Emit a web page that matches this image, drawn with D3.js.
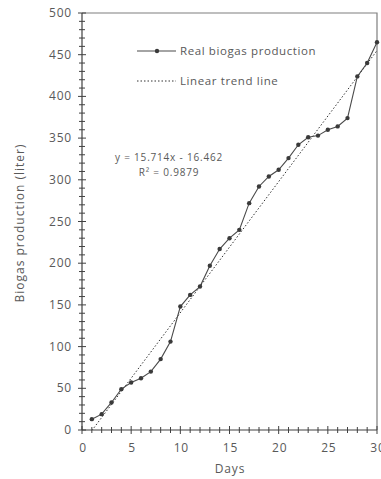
<!DOCTYPE html>
<html>
<head>
<meta charset="utf-8">
<script src="https://cdn.jsdelivr.net/npm/d3@7"></script>
<style>
  body { margin: 0; background: #fff; }
  svg text { font-family: "Open Sans", "Noto Sans", sans-serif; fill: #595959; }
</style>
</head>
<body>
<svg id="chart" width="381" height="479"></svg>
<script>
// Measured biogas production per day
const days = [1, 2, 3, 4, 5, 6, 7, 8, 9, 10, 11, 12, 13, 14, 15,
              16, 17, 18, 19, 20, 21, 22, 23, 24, 25, 26, 27, 28, 29, 30];
const biogas = [13, 19, 33, 49, 57, 62, 70, 85, 106, 148, 162, 172, 197, 217, 230,
                240, 272, 292, 304, 312, 326, 342, 351, 353, 360, 364, 374, 424, 440, 465];

// Linear trend line as printed on the chart
const trendSlope = 15.714;
const trendIntercept = -16.462;
const trendLabels = ['y = 15.714x - 16.462', 'R\u00b2 = 0.9879'];

const xTicks = [0, 5, 10, 15, 20, 25, 30];
const yTicks = [0, 50, 100, 150, 200, 250, 300, 350, 400, 450, 500];

const svg = d3.select('#chart');

const plotLeft = 82, plotRight = 377, plotTop = 13, plotBottom = 430;
const x = d3.scaleLinear().domain([0, 30]).range([plotLeft, plotRight]);
const y = d3.scaleLinear().domain([0, 500]).range([plotBottom, plotTop]);

const axisColor = '#404040';

// frame (top and right)
svg.append('path')
    .attr('d', `M${plotLeft},${plotTop}H${plotRight}V${plotBottom}`)
    .attr('fill', 'none')
    .attr('stroke', '#7f7f7f')
    .attr('stroke-width', 1.2);

// minor ticks, crossing the axes
const xMinor = d3.range(0, 31, 1);
const yMinor = d3.range(0, 501, 10);

const xAxis = svg.append('g');
xAxis.selectAll('line.minor')
    .data(xMinor)
    .join('line')
    .attr('x1', d => x(d)).attr('x2', d => x(d))
    .attr('y1', d => plotBottom - (d % 5 === 0 ? 4 : 3))
    .attr('y2', d => plotBottom + (d % 5 === 0 ? 4 : 3))
    .attr('stroke', axisColor).attr('stroke-width', 1);
xAxis.append('line')
    .attr('x1', plotLeft).attr('x2', plotRight)
    .attr('y1', plotBottom).attr('y2', plotBottom)
    .attr('stroke', axisColor).attr('stroke-width', 1.2);
xAxis.selectAll('text')
    .data(xTicks)
    .join('text')
    .attr('x', d => x(d) + 1)
    .attr('y', plotBottom + 22)
    .attr('text-anchor', 'middle')
    .attr('font-size', 12)
    .attr('letter-spacing', 0.8)
    .text(d => d);

const yAxis = svg.append('g');
yAxis.selectAll('line.minor')
    .data(yMinor)
    .join('line')
    .attr('y1', d => y(d)).attr('y2', d => y(d))
    .attr('x1', d => plotLeft - (d % 50 === 0 ? 4 : 3))
    .attr('x2', d => plotLeft + (d % 50 === 0 ? 4 : 3))
    .attr('stroke', axisColor).attr('stroke-width', 1);
yAxis.append('line')
    .attr('x1', plotLeft).attr('x2', plotLeft)
    .attr('y1', plotTop).attr('y2', plotBottom)
    .attr('stroke', axisColor).attr('stroke-width', 1.2);
yAxis.selectAll('text')
    .data(yTicks)
    .join('text')
    .attr('x', plotLeft - 10)
    .attr('y', d => y(d) + 4)
    .attr('text-anchor', 'end')
    .attr('font-size', 12)
    .attr('letter-spacing', 0.8)
    .text(d => d);

// axis titles
svg.append('text')
    .attr('x', 230).attr('y', 473)
    .attr('text-anchor', 'middle')
    .attr('font-size', 12)
    .attr('letter-spacing', 0.8)
    .text('Days');
svg.append('text')
    .attr('transform', 'translate(24,223) rotate(-90)')
    .attr('text-anchor', 'middle')
    .attr('font-size', 12)
    .attr('letter-spacing', 1)
    .text('Biogas production (liter)');

// clip the trend line to the plot area
svg.append('clipPath').attr('id', 'plotClip')
    .append('rect')
    .attr('x', plotLeft).attr('y', plotTop)
    .attr('width', plotRight - plotLeft).attr('height', plotBottom - plotTop);

const trendDomain = [days[0], days[days.length - 1]];
svg.append('line')
    .attr('clip-path', 'url(#plotClip)')
    .attr('x1', x(trendDomain[0])).attr('y1', y(trendSlope * trendDomain[0] + trendIntercept))
    .attr('x2', x(trendDomain[1])).attr('y2', y(trendSlope * trendDomain[1] + trendIntercept))
    .attr('stroke', '#333')
    .attr('stroke-width', 1)
    .attr('stroke-dasharray', '1.5,2');

// data line with markers
const line = d3.line()
    .x((d, i) => x(days[i]))
    .y(d => y(d));

svg.append('path')
    .datum(biogas)
    .attr('d', line)
    .attr('fill', 'none')
    .attr('stroke', '#4a4a4a')
    .attr('stroke-width', 1.1);

svg.selectAll('circle.pt')
    .data(biogas)
    .join('circle')
    .attr('class', 'pt')
    .attr('cx', (d, i) => x(days[i]))
    .attr('cy', d => y(d))
    .attr('r', 2.2)
    .attr('fill', '#3a3a3a');

// legend
const legend = svg.append('g');
legend.append('line')
    .attr('x1', 137).attr('x2', 176).attr('y1', 51).attr('y2', 51)
    .attr('stroke', '#4a4a4a').attr('stroke-width', 1.1);
legend.append('circle')
    .attr('cx', 157).attr('cy', 51).attr('r', 2.2)
    .attr('fill', '#3a3a3a');
legend.append('text')
    .attr('x', 180).attr('y', 55)
    .attr('font-size', 11.5)
    .attr('letter-spacing', 0.6)
    .text('Real biogas production');
legend.append('line')
    .attr('x1', 137).attr('x2', 176).attr('y1', 81).attr('y2', 81)
    .attr('stroke', '#333').attr('stroke-width', 1)
    .attr('stroke-dasharray', '1.5,2');
legend.append('text')
    .attr('x', 180).attr('y', 85)
    .attr('font-size', 11.5)
    .attr('letter-spacing', 0.6)
    .text('Linear trend line');

// trend equation
svg.selectAll('text.eq')
    .data(trendLabels)
    .join('text')
    .attr('class', 'eq')
    .attr('x', 169)
    .attr('y', (d, i) => 161 + i * 15)
    .attr('text-anchor', 'middle')
    .attr('font-size', 10)
    .attr('letter-spacing', 0.8)
    .text(d => d);
</script>
</body>
</html>
